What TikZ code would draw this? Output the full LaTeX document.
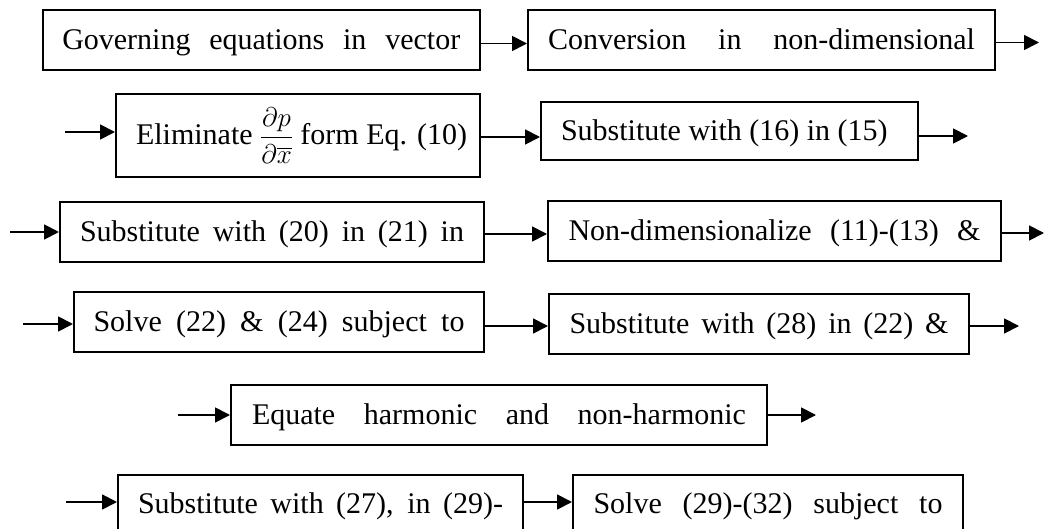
\documentclass[tikz,border=0pt]{standalone}
\usepackage{fix-cm}
\usepackage{amsmath}
\usepackage{fontspec}
\setmainfont{Liberation Serif}
\usetikzlibrary{arrows.meta}
\begin{document}
\begin{tikzpicture}[x=1pt,y=-1pt,
  font=\fontsize{30}{36}\selectfont,
  box/.style={draw, line width=2pt, anchor=north west, inner sep=0pt},
  oneline/.style={text height=25pt, text depth=6pt},
  arr/.style={line width=1.8pt, -{Triangle[length=15pt,width=15pt]}}]
\useasboundingbox (0,0) rectangle (1046,529);
\clip (0,0) rectangle (1046,529);
% boxes
\node[box,oneline,minimum width=437.5pt,minimum height=60pt] (A) at (41.5,9.5) {\makebox[398pt][s]{Governing equations in vector}};
\node[box,oneline,minimum width=467pt,minimum height=60pt] (B) at (527,9.5) {\makebox[427pt][s]{Conversion in non-dimensional}};
\node[box,minimum width=364pt,minimum height=83pt] (C) at (115,93) {\makebox[324pt][l]{Eliminate {\fontsize{27}{30}\selectfont$\dfrac{\partial p}{\partial \overline{x}}$} form Eq. (10)}};
\node[box,oneline,minimum width=377pt,minimum height=58pt] (D) at (540,101) {\makebox[337pt][l]{Substitute with (16) in (15)}};
\node[box,oneline,minimum width=424pt,minimum height=60pt] (E) at (59,201) {\makebox[384pt][s]{Substitute with (20) in (21) in}};
\node[box,oneline,minimum width=453pt,minimum height=60pt] (F) at (547,200) {\makebox[412pt][s]{Non-dimensionalize (11)-(13) \&}};
\node[box,oneline,minimum width=410pt,minimum height=60pt] (G) at (73,291) {\makebox[371pt][s]{Solve (22) \& (24) subject to}};
\node[box,oneline,minimum width=420pt,minimum height=60pt] (H) at (548,293) {\makebox[379pt][s]{Substitute with (28) in (22) \&}};
\node[box,oneline,minimum width=536pt,minimum height=60pt] (I) at (230,384) {\makebox[494pt][s]{Equate harmonic and non-harmonic}};
\node[box,oneline,minimum width=405pt,minimum height=58pt] (J) at (117,474) {\makebox[365pt][s]{Substitute with (27), in (29)-}};
\node[box,oneline,minimum width=390pt,minimum height=58pt] (K) at (572,474) {\makebox[349pt][s]{Solve (29)-(32) subject to}};
% free ends
\coordinate (e1) at (1039,42.5);
\coordinate (s2) at (65,132);
\coordinate (e2) at (968,136);
\coordinate (s3) at (10,232);
\coordinate (e3) at (1044,233);
\coordinate (s4) at (23,324);
\coordinate (e4) at (1019,326);
\coordinate (s5) at (178,415);
\coordinate (e5) at (816,415);
\coordinate (s6) at (66,502);
% connectors
\draw[arr] ([yshift=-3pt]A.east) -- ([yshift=-3pt]A.east -| B.west);
\draw[arr] (e1 -| B.east) -- (e1);
\draw[arr] (s2) -- (s2 -| C.west);
\draw[arr] ([yshift=-1.5pt]C.east) -- ([yshift=-1.5pt]C.east -| D.west);
\draw[arr] (e2 -| D.east) -- (e2);
\draw[arr] (s3) -- (s3 -| E.west);
\draw[arr] ([yshift=-2pt]E.east) -- ([yshift=-2pt]E.east -| F.west);
\draw[arr] (e3 -| F.east) -- (e3);
\draw[arr] (s4) -- (s4 -| G.west);
\draw[arr] ([yshift=-4pt]G.east) -- ([yshift=-4pt]G.east -| H.west);
\draw[arr] (e4 -| H.east) -- (e4);
\draw[arr] (s5) -- (s5 -| I.west);
\draw[arr] (e5 -| I.east) -- (e5);
\draw[arr] (s6) -- (s6 -| J.west);
\draw[arr] (s6 -| J.east) -- (s6 -| K.west);
\end{tikzpicture}
\end{document}
